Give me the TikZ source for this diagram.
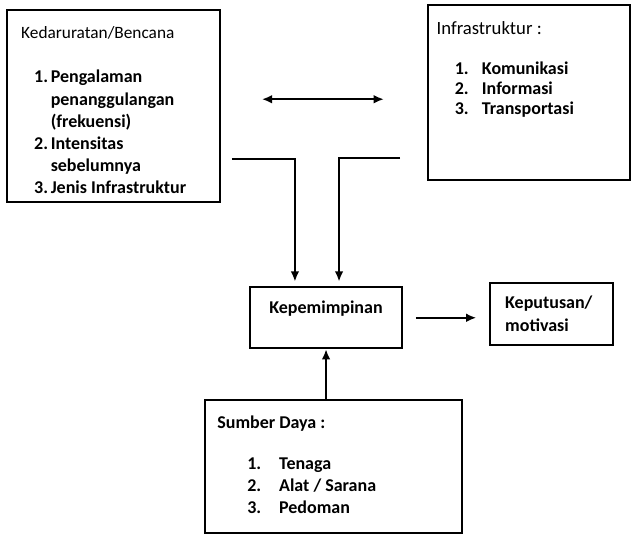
\documentclass[tikz,border=0pt]{standalone}
\usepackage{fontspec}
\setmainfont{Carlito}
\usetikzlibrary{arrows.meta,positioning}

\begin{document}
\begin{tikzpicture}[x=1cm,y=1cm,
      panel/.style={draw=black, line width=1.3pt, inner sep=0pt},
      heading/.style={font=\fontsize{12.5}{15}\selectfont,
        anchor=west, inner sep=0pt},
      strong/.style={font=\fontsize{13}{16}\selectfont\bfseries,
        inner sep=0pt},
      listing/.style={strong, align=left, anchor=north west},
      link/.style={draw=black, line width=1.5pt,
        -{Latex[length=.26cm,width=.22cm]}}]
      \useasboundingbox (0,0) rectangle (16.05,13.59);
      \fill[white] (0,0) rectangle (16.05,13.59);

      % boxes
      \node[panel, minimum width=5.41cm, minimum height=4.88cm]
        (kedar) at (2.88,10.90) {};
      \node[panel, minimum width=5.13cm, minimum height=4.45cm]
        (infra) at (13.44,11.24) {};
      \node[panel, minimum width=3.86cm, minimum height=1.55cm]
        (lead) at (8.28,5.52) {};
      \node[panel, minimum width=3.12cm, minimum height=1.57cm,
        strong, align=left, text width=2.36cm, inner xsep=.38cm]
        (keput) at (14.01,5.61) {Keputusan/\\[.6pt]motivasi};
      \node[panel, minimum width=6.53cm, minimum height=3.38cm]
        (sumber) at (8.47,1.74) {};

      % texts
      \node[heading] (kedarTitle) at ([shift={(.38,-.62)}]kedar.north west)
        {Kedaruratan/Bencana};
      \node[listing] (kedarList) at ([shift={(.71,-1.55)}]kedar.north west)
        {\makebox[.42cm][l]{1.}Pengalaman\\
         \hspace*{.42cm}penanggulangan\\
         \hspace*{.42cm}(frekuensi)\\
         \makebox[.42cm][l]{2.}Intensitas\\
         \hspace*{.42cm}sebelumnya\\
         \makebox[.42cm][l]{3.}Jenis Infrastruktur};
      \node[heading, font=\fontsize{13.5}{16}\selectfont] (infraTitle)
        at ([shift={(.23,-.62)}]infra.north west) {Infrastruktur :};
      \node[listing, font=\fontsize{13}{14.5}\selectfont\bfseries] (infraList)
        at ([shift={(.69,-1.47)}]infra.north west)
        {\makebox[.69cm][l]{1.}Komunikasi\\
         \makebox[.69cm][l]{2.}Informasi\\
         \makebox[.69cm][l]{3.}Transportasi};
      \node[strong] (leadText) at ([yshift=-.56cm]lead.north) {Kepemimpinan};
      \node[strong, anchor=west] (sumberTitle)
        at ([shift={(.33,-.62)}]sumber.north west) {Sumber Daya :};
      \node[listing] (sumberList) at ([shift={(1.09,-1.47)}]sumber.north west)
        {\makebox[.81cm][l]{1.}Tenaga\\
         \makebox[.81cm][l]{2.}Alat / Sarana\\
         \makebox[.81cm][l]{3.}Pedoman};

      % connectors
      \coordinate (dblL) at (6.65,11.07);
      \coordinate (dblR) at (9.75,11.07);
      \draw[link, {Latex[length=.26cm,width=.22cm]}-{Latex[length=.26cm,width=.22cm]}]
        (dblL) -- (dblR);
      \coordinate (fromKedar) at (5.89,9.55);
      \coordinate (fromInfra) at (10.16,9.57);
      \draw[link, shorten >=.12cm]
        (fromKedar) -| ([xshift=-.79cm]lead.north);
      \draw[link, shorten >=.12cm]
        (fromInfra) -| ([xshift=.33cm]lead.north);
      \draw[link] (lead.south |- sumber.north) -- (lead.south);
      \draw[link, shorten <=.33cm, shorten >=.33cm]
        (lead.east) -- (lead.east -| keput.west);
    \end{tikzpicture}
\end{document}
